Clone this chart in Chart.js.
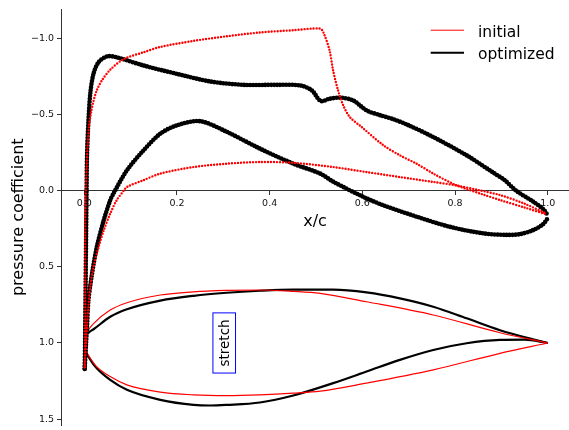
<!DOCTYPE html>
<html>
<head>
<meta charset="utf-8">
<script src="https://cdn.jsdelivr.net/npm/chart.js@4/dist/chart.umd.min.js"></script>
<style>
  html, body { margin: 0; padding: 0; background: #fff; }
  #wrap { width: 569px; height: 430px; }
</style>
</head>
<body>
<div id="wrap"><canvas id="chart" width="569" height="430"></canvas></div>
<script>
// pressure coefficient along x/c
const initialCpUpper = [
  [0.001, 1.16], [0.002, 0.9], [0.002, 0.6], [0.002, 0.3], [0.003, 0.05], [0.005, -0.15],
  [0.007, -0.28], [0.010, -0.42], [0.015, -0.52], [0.020, -0.59], [0.027, -0.66], [0.038, -0.725],
  [0.056, -0.795], [0.085, -0.865], [0.128, -0.91], [0.164, -0.945], [0.236, -0.985], [0.307, -1.015],
  [0.379, -1.04], [0.451, -1.055], [0.509, -1.066], [0.516, -1.04], [0.529, -0.926], [0.537, -0.79],
  [0.547, -0.666], [0.559, -0.56], [0.573, -0.484], [0.598, -0.42], [0.645, -0.30], [0.681, -0.233],
  [0.717, -0.178], [0.753, -0.113], [0.803, -0.036], [0.861, 0.025], [0.897, 0.061], [0.950, 0.11],
  [0.997, 0.155]
];
const initialCpLower = [
  [0.001, 1.16], [0.004, 1.0], [0.006, 0.89], [0.009, 0.76], [0.013, 0.63], [0.020, 0.50],
  [0.031, 0.37], [0.042, 0.26], [0.056, 0.15], [0.070, 0.062], [0.085, 0.0], [0.092, -0.025],
  [0.128, -0.07], [0.164, -0.113], [0.236, -0.156], [0.307, -0.178], [0.379, -0.189], [0.451, -0.184],
  [0.537, -0.156], [0.609, -0.123], [0.681, -0.09], [0.753, -0.058], [0.803, -0.035], [0.850, -0.005],
  [0.897, 0.028], [0.950, 0.085], [0.997, 0.15]
];
const optimizedCpUpper = [
  [0.001, 1.17], [0.002, 0.9], [0.003, 0.6], [0.004, 0.3], [0.005, 0.0], [0.006, -0.24],
  [0.009, -0.46], [0.013, -0.64], [0.020, -0.77], [0.031, -0.845], [0.049, -0.883], [0.070, -0.877],
  [0.128, -0.823], [0.200, -0.768], [0.272, -0.718], [0.343, -0.696], [0.415, -0.696], [0.466, -0.692],
  [0.491, -0.66], [0.510, -0.59], [0.530, -0.605], [0.552, -0.612], [0.580, -0.594], [0.609, -0.528],
  [0.638, -0.497], [0.667, -0.47], [0.700, -0.43], [0.753, -0.353], [0.825, -0.233], [0.882, -0.12],
  [0.907, -0.07], [0.932, 0.0], [0.968, 0.07], [0.990, 0.12], [1.0, 0.16]
];
const optimizedCpLower = [
  [0.001, 1.17], [0.004, 1.0], [0.006, 0.89], [0.009, 0.72], [0.017, 0.54], [0.027, 0.37],
  [0.042, 0.193], [0.056, 0.062], [0.063, 0.018], [0.092, -0.134], [0.128, -0.266], [0.164, -0.375],
  [0.200, -0.43], [0.250, -0.457], [0.307, -0.388], [0.379, -0.277], [0.451, -0.178], [0.509, -0.113],
  [0.537, -0.06], [0.602, 0.04], [0.645, 0.095], [0.717, 0.17], [0.789, 0.237], [0.861, 0.28],
  [0.911, 0.29], [0.940, 0.285], [0.968, 0.259], [0.990, 0.22], [1.0, 0.18]
];

// airfoil outlines (stretched, drawn around y = 1)
const initialShapeUpper = [
  [0, 1.0], [0.001, 0.972], [0.004, 0.943], [0.010, 0.91], [0.020, 0.873], [0.056, 0.784],
  [0.092, 0.736], [0.164, 0.685], [0.236, 0.664], [0.307, 0.655], [0.379, 0.652], [0.451, 0.661],
  [0.509, 0.674], [0.609, 0.729], [0.753, 0.816], [0.897, 0.933], [1.0, 1.0]
];
const initialShapeLower = [
  [0, 1.0], [0.001, 1.03], [0.004, 1.055], [0.013, 1.10], [0.025, 1.15], [0.056, 1.221],
  [0.092, 1.275], [0.164, 1.323], [0.236, 1.341], [0.307, 1.346], [0.379, 1.341], [0.451, 1.33],
  [0.509, 1.317], [0.609, 1.264], [0.753, 1.177], [0.897, 1.068], [1.0, 1.0]
];
const optimizedShapeUpper = [
  [0, 1.0], [0.001, 0.975], [0.004, 0.95], [0.010, 0.93], [0.020, 0.91], [0.056, 0.828],
  [0.092, 0.779], [0.164, 0.722], [0.236, 0.690], [0.307, 0.670], [0.379, 0.657], [0.451, 0.650],
  [0.537, 0.650], [0.609, 0.668], [0.681, 0.707], [0.753, 0.762], [0.825, 0.838], [0.897, 0.916],
  [0.968, 0.976], [1.0, 1.0]
];
const optimizedShapeLower = [
  [0, 1.0], [0.001, 1.03], [0.004, 1.06], [0.013, 1.11], [0.025, 1.16], [0.056, 1.243],
  [0.092, 1.308], [0.164, 1.374], [0.236, 1.407], [0.272, 1.411], [0.307, 1.407], [0.379, 1.391],
  [0.451, 1.345], [0.537, 1.264], [0.609, 1.188], [0.681, 1.111], [0.753, 1.046], [0.825, 1.002],
  [0.897, 0.98], [0.950, 0.978], [1.0, 1.0]
];

const xTicks = [0, 0.2, 0.4, 0.6, 0.8, 1.0];
const yTicks = [-1.0, -0.5, 0.0, 0.5, 1.0, 1.5];
const seriesNames = ['initial', 'optimized'];
const stretchNote = { text: 'stretch', x: 0.302, y: 1.0 };

const RED = '#ff0000';
const BLACK = '#000000';
const FONT = '"DejaVu Sans", sans-serif';

function pts(a) {
  return a.map(p => ({ x: p[0], y: p[1] }));
}

// dotted Cp curve: round caps on zero length dashes give a chain of dots
function cpSet(data, color, width, gap) {
  return {
    data: pts(data), showLine: true, borderColor: color, borderWidth: width,
    borderDash: [0, gap], borderCapStyle: 'round', pointRadius: 0, tension: 0.3
  };
}

// outlines have increasing x, so monotone splines keep them smooth
function shapeSet(data, color, width) {
  return {
    data: pts(data), showLine: true, borderColor: color, borderWidth: width,
    pointRadius: 0, cubicInterpolationMode: 'monotone'
  };
}

const datasets = [
  Object.assign(cpSet(initialCpUpper, RED, 2.4, 3), { label: seriesNames[0], legendWidth: 1 }),
  cpSet(initialCpLower, RED, 2.4, 3),
  Object.assign(cpSet(optimizedCpUpper, BLACK, 4.6, 3), { label: seriesNames[1], legendWidth: 2 }),
  cpSet(optimizedCpLower, BLACK, 4.6, 3),
  shapeSet(initialShapeUpper, RED, 1.2),
  shapeSet(initialShapeLower, RED, 1.2),
  shapeSet(optimizedShapeUpper, BLACK, 2.2),
  shapeSet(optimizedShapeLower, BLACK, 2.2)
];

function fmt(v) {
  return (v < 0 ? '\u2212' : '') + Math.abs(v).toFixed(1);
}

// legend box and the "stretch" label
const overlay = {
  id: 'overlay',
  afterDraw(chart) {
    const { ctx, chartArea, scales } = chart;
    ctx.save();

    const px = scales.x.getPixelForValue(stretchNote.x);
    const py = scales.y.getPixelForValue(stretchNote.y);
    ctx.translate(px, py);
    ctx.rotate(-Math.PI / 2);
    ctx.font = '13.5px ' + FONT;
    const w = ctx.measureText(stretchNote.text).width;
    ctx.fillStyle = '#fff';
    ctx.fillRect(-w / 2 - 6.5, -11.3, w + 13, 22.6);
    ctx.strokeStyle = '#0000ff';
    ctx.lineWidth = 1;
    ctx.strokeRect(-w / 2 - 6.5, -11.3, w + 13, 22.6);
    ctx.fillStyle = '#000';
    ctx.textAlign = 'center';
    ctx.textBaseline = 'middle';
    ctx.fillText(stretchNote.text, 0, 1);
    ctx.setTransform(1, 0, 0, 1, 0, 0);

    ctx.font = '15.5px ' + FONT;
    ctx.textAlign = 'left';
    ctx.textBaseline = 'alphabetic';
    chart.data.datasets.filter(d => d.label).forEach((d, i) => {
      const ly = chartArea.top + 20.7 + i * 22.6;
      ctx.strokeStyle = d.borderColor;
      ctx.lineWidth = d.legendWidth;
      ctx.beginPath();
      ctx.moveTo(chartArea.right - 138.3, ly);
      ctx.lineTo(chartArea.right - 105, ly);
      ctx.stroke();
      ctx.fillStyle = '#000';
      ctx.fillText(d.label, chartArea.right - 91, ly + 6.3);
    });
    ctx.restore();
  }
};

const axisColor = '#333';
const tickFont = { family: FONT, size: 9.5 };
const titleFont = { family: FONT, size: 16 };

new Chart(document.getElementById('chart'), {
  type: 'scatter',
  data: { datasets: datasets },
  options: {
    responsive: false,
    animation: false,
    devicePixelRatio: 1,
    events: [],
    layout: { padding: { top: 9.5, right: 0, bottom: 5, left: 0 } },
    plugins: { legend: { display: false }, tooltip: { enabled: false } },
    scales: {
      x: {
        type: 'linear',
        position: { y: 0 },
        min: -0.0502,
        max: 1.0459,
        afterBuildTicks: s => { s.ticks = xTicks.map(v => ({ value: v })); },
        grid: { drawOnChartArea: false, drawTicks: true, tickLength: 4, color: axisColor },
        border: { display: true, color: axisColor, width: 1 },
        ticks: { font: tickFont, color: '#111', padding: 3, maxRotation: 0, autoSkip: false, callback: v => fmt(v) },
        title: { display: true, text: 'x/c', font: titleFont, color: '#000', padding: { top: 0, bottom: 0 } }
      },
      y: {
        type: 'linear',
        position: 'left',
        reverse: true,
        min: -1.191,
        max: 1.539,
        afterBuildTicks: s => { s.ticks = yTicks.map(v => ({ value: v })); },
        afterFit: s => { s.width = 61; s.paddingTop = 0; s.paddingBottom = 0; },
        grid: { drawOnChartArea: false, drawTicks: true, tickLength: 4, color: axisColor },
        border: { display: true, color: axisColor, width: 1 },
        ticks: { font: tickFont, color: '#111', padding: 3, callback: v => fmt(v) },
        title: { display: true, text: 'pressure coefficient', font: titleFont, color: '#000', padding: { top: 9, bottom: 0 } }
      }
    }
  },
  plugins: [overlay]
});
</script>
</body>
</html>
